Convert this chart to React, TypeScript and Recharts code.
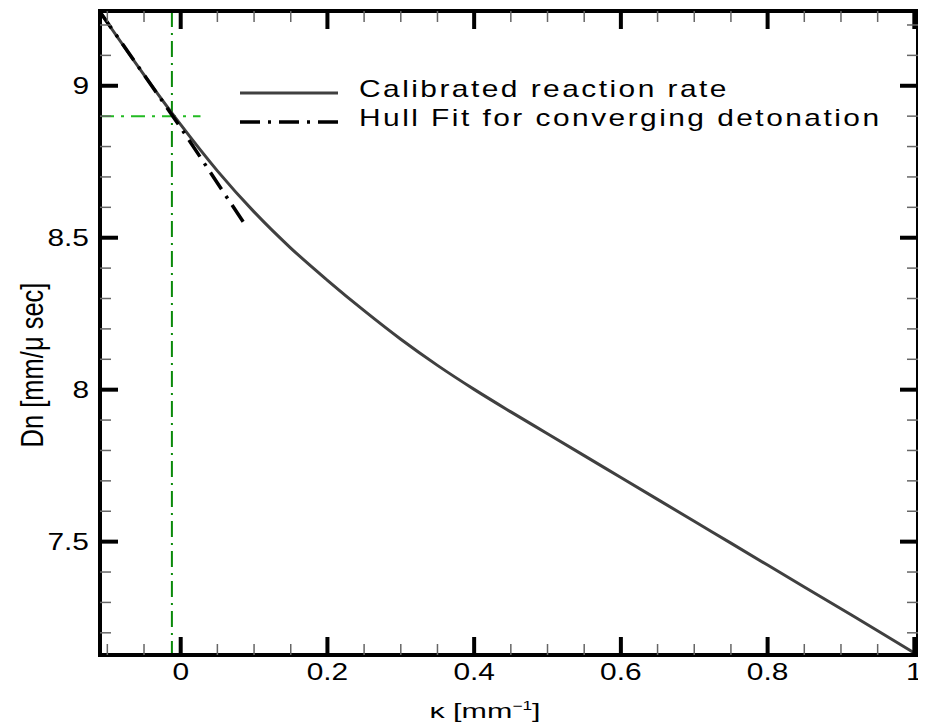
import React from 'react';
import { LineChart, Line, XAxis, YAxis, Legend } from 'recharts';

// ---- data ----
const kappa = [-0.11, -0.05, 0, 0.05, 0.1, 0.15, 0.2, 0.25, 0.3, 0.35, 0.4, 0.45, 0.5, 0.55, 0.6, 0.65, 0.7, 0.75, 0.8, 0.85, 0.9, 0.95, 1.0];
const calibratedDn = [9.243, 9.036, 8.872, 8.72, 8.585, 8.466, 8.36, 8.26, 8.166, 8.08, 8.001, 7.927, 7.855, 7.783, 7.711, 7.639, 7.567, 7.495, 7.423, 7.351, 7.279, 7.207, 7.134];

const hullKappa = [-0.11, -0.05, 0, 0.05, 0.09];
const hullDn = [9.243, 9.036, 8.862, 8.68, 8.535];

const vGuideKappa = [-0.012, -0.012];
const vGuideDn = [9.246, 7.127];
const hGuideKappa = [-0.11, 0.027];
const hGuideDn = [8.9, 8.9];

const xMajorTicks = [0, 0.2, 0.4, 0.6, 0.8, 1];
const xMinorTicks = [-0.1, -0.05, 0.05, 0.1, 0.15, 0.25, 0.3, 0.35, 0.45, 0.5, 0.55, 0.65, 0.7, 0.75, 0.85, 0.9, 0.95];
const yMajorTicks = [7.5, 8, 8.5, 9];
const yMinorTicks = [7.2, 7.3, 7.4, 7.6, 7.7, 7.8, 7.9, 8.1, 8.2, 8.3, 8.4, 8.6, 8.7, 8.8, 8.9, 9.1, 9.2];
const xTickLabels = ['0', '0.2', '0.4', '0.6', '0.8', '1'];
const yTickLabels = ['7.5', '8', '8.5', '9'];

const seriesNames = ['Calibrated reaction rate', 'Hull Fit for converging detonation'];

const xDomain: [number, number] = [-0.11, 1.005];
const yDomain: [number, number] = [7.127, 9.246];

// ---- build tables ----
const calibratedData = kappa.map((k, i) => ({ x: k, y: calibratedDn[i] }));
const hullData = hullKappa.map((k, i) => ({ x: k, y: hullDn[i] }));
const vGuideData = vGuideKappa.map((k, i) => ({ x: k, y: vGuideDn[i] }));
const hGuideData = hGuideKappa.map((k, i) => ({ x: k, y: hGuideDn[i] }));
const xTicks = [...xMinorTicks, ...xMajorTicks].sort((a, b) => a - b);
const yTicks = [...yMinorTicks, ...yMajorTicks].sort((a, b) => a - b);

const FONT = '"Liberation Sans", Arial, Helvetica, sans-serif';
const MAJOR = 18;
const MINOR = 11;

const lineStyles: Record<string, { stroke: string; width: number; dash?: string }> = {
  [seriesNames[0]]: { stroke: '#404040', width: 3 },
  [seriesNames[1]]: { stroke: '#000000', width: 3.5, dash: '20 8 3 8' },
};

function tickMark(x1: number, y1: number, x2: number, y2: number, major: boolean) {
  return (
    <line
      x1={x1}
      y1={y1}
      x2={x2}
      y2={y2}
      stroke={major ? '#000' : '#666'}
      strokeWidth={major ? 4 : 1.5}
    />
  );
}

const BottomTick = (props: any) => {
  const { x, y, payload } = props;
  const v = payload.value;
  const mi = xMajorTicks.indexOf(v);
  const major = mi >= 0;
  return (
    <g>
      {tickMark(x, y, x, y - (major ? MAJOR : MINOR), major)}
      {major && (
        <text
          transform={`translate(${x},${y + 25}) scale(1.3,1)`}
          textAnchor="middle"
          fontSize={23}
          fontFamily={FONT}
          fill="#000"
        >
          {xTickLabels[mi]}
        </text>
      )}
    </g>
  );
};

const TopTick = (props: any) => {
  const { x, y, payload } = props;
  const major = xMajorTicks.indexOf(payload.value) >= 0;
  return <g>{tickMark(x, y, x, y + (major ? MAJOR : MINOR), major)}</g>;
};

const LeftTick = (props: any) => {
  const { x, y, payload } = props;
  const mi = yMajorTicks.indexOf(payload.value);
  const major = mi >= 0;
  return (
    <g>
      {tickMark(x, y, x + (major ? MAJOR : MINOR), y, major)}
      {major && (
        <text
          transform={`translate(${x - 11},${y + 8.2}) scale(1.3,1)`}
          textAnchor="end"
          fontSize={23}
          fontFamily={FONT}
          fill="#000"
        >
          {yTickLabels[mi]}
        </text>
      )}
    </g>
  );
};

const RightTick = (props: any) => {
  const { x, y, payload } = props;
  const major = yMajorTicks.indexOf(payload.value) >= 0;
  return <g>{tickMark(x, y, x - (major ? MAJOR : MINOR), y, major)}</g>;
};

const XTitle = (props: any) => {
  const vb = props.viewBox || { x: 92, y: 647, width: 818, height: 71 };
  const cx = vb.x + vb.width / 2 - 24;
  const by = vb.y + 63;
  return (
    <text
      transform={`translate(${cx},${by}) scale(1.45,1)`}
      textAnchor="middle"
      fontSize={21}
      fontFamily={FONT}
      fill="#000"
    >
      κ [mm
      <tspan dy={-8} fontSize={12}>−1</tspan>
      <tspan dy={8}>]</tspan>
    </text>
  );
};

const YTitle = (props: any) => {
  const vb = props.viewBox || { x: 0, y: 3, width: 92, height: 644 };
  const cy = vb.y + vb.height / 2 + 32;
  const bx = vb.x + 35;
  return (
    <text
      transform={`translate(${bx},${cy}) rotate(-90) scale(1,1.2)`}
      textAnchor="middle"
      fontSize={25.5}
      fontFamily={FONT}
      fill="#000"
    >
      Dn [mm/μ sec]
    </text>
  );
};

const LegendContent = (props: any) => {
  const payload = (props.payload || []).filter((p: any) => lineStyles[p.value]);
  return (
    <svg width={690} height={60} style={{ display: 'block', overflow: 'visible' }}>
      {payload.map((p: any, i: number) => {
        const st = lineStyles[p.value];
        const ly = 13 + i * 29;
        return (
          <g key={p.value}>
            <line
              x1={0}
              y1={ly}
              x2={98}
              y2={ly}
              stroke={st.stroke}
              strokeWidth={st.width}
              strokeDasharray={st.dash}
            />
            <text
              transform={`translate(119,${ly + 4}) scale(1.3,1)`}
              fontSize={23}
              letterSpacing={1.9}
              fontFamily={FONT}
              fill="#000"
            >
              {p.value}
            </text>
          </g>
        );
      })}
    </svg>
  );
};

const axisLine = { stroke: '#000', strokeWidth: 4, strokeLinecap: 'square' as const };

export default function App() {
  return (
    <div style={{ width: 918, height: 718 }}>
      <LineChart width={918} height={718} margin={{ top: 2, right: 7, bottom: 0, left: 0 }}>
        <XAxis
          xAxisId="b"
          type="number"
          dataKey="x"
          orientation="bottom"
          domain={xDomain}
          allowDataOverflow
          ticks={xTicks}
          interval={0}
          tickLine={false}
          tickSize={0}
          tickMargin={0}
          axisLine={axisLine}
          tick={(p: any) => <BottomTick {...p} />}
          height={71}
          label={(p: any) => <XTitle {...p} />}
        />
        <XAxis
          xAxisId="t"
          type="number"
          dataKey="x"
          orientation="top"
          domain={xDomain}
          allowDataOverflow
          ticks={xTicks}
          interval={0}
          tickLine={false}
          tickSize={0}
          tickMargin={0}
          axisLine={axisLine}
          tick={(p: any) => <TopTick {...p} />}
          height={1}
        />
        <YAxis
          yAxisId="l"
          type="number"
          dataKey="y"
          orientation="left"
          domain={yDomain}
          allowDataOverflow
          ticks={yTicks}
          interval={0}
          tickLine={false}
          tickSize={0}
          tickMargin={0}
          axisLine={axisLine}
          tick={(p: any) => <LeftTick {...p} />}
          width={92}
          label={(p: any) => <YTitle {...p} />}
        />
        <YAxis
          yAxisId="r"
          type="number"
          dataKey="y"
          orientation="right"
          domain={yDomain}
          allowDataOverflow
          ticks={yTicks}
          interval={0}
          tickLine={false}
          tickSize={0}
          tickMargin={0}
          axisLine={axisLine}
          tick={(p: any) => <RightTick {...p} />}
          width={1}
        />
        <Line
          xAxisId="b"
          yAxisId="l"
          data={vGuideData}
          dataKey="y"
          type="linear"
          stroke="#0a8a0a"
          strokeWidth={2}
          strokeDasharray="16 6 2 6"
          dot={false}
          activeDot={false}
          legendType="none"
          isAnimationActive={false}
        />
        <Line
          xAxisId="t"
          yAxisId="r"
          data={hGuideData}
          dataKey="y"
          type="linear"
          stroke="#22bb22"
          strokeWidth={2}
          strokeDasharray="14 7 3 7"
          dot={false}
          activeDot={false}
          legendType="none"
          isAnimationActive={false}
        />
        <Line
          xAxisId="b"
          yAxisId="l"
          data={calibratedData}
          dataKey="y"
          name={seriesNames[0]}
          type="monotone"
          stroke="#404040"
          strokeWidth={3}
          dot={false}
          activeDot={false}
          isAnimationActive={false}
        />
        <Line
          xAxisId="t"
          yAxisId="r"
          data={hullData}
          dataKey="y"
          name={seriesNames[1]}
          type="monotone"
          stroke="#000000"
          strokeWidth={3.5}
          strokeDasharray="20 8 3 8"
          dot={false}
          activeDot={false}
          isAnimationActive={false}
        />
        <Legend
          layout="vertical"
          align="center"
          verticalAlign="middle"
          content={(p: any) => <LegendContent {...p} />}
          wrapperStyle={{ position: 'absolute', left: 232, top: 72, width: 690, height: 60, margin: 0, padding: 0 }}
        />
      </LineChart>
    </div>
  );
}
